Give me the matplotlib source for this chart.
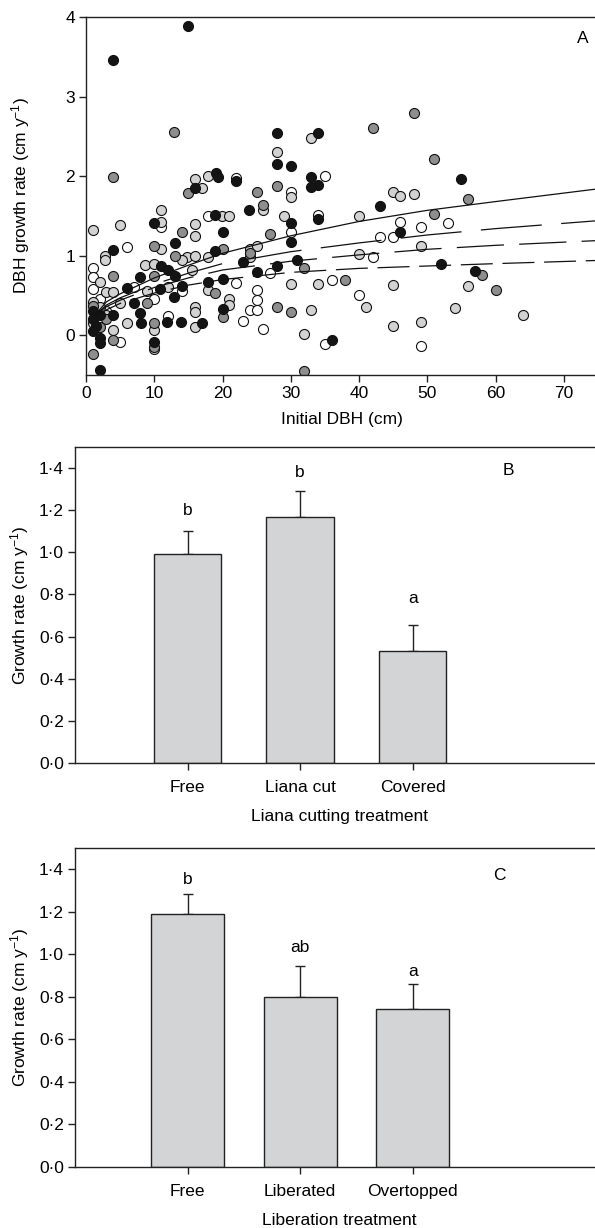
import matplotlib
matplotlib.use("Agg")
import matplotlib.pyplot as plt
from matplotlib.ticker import FuncFormatter

plt.rcParams['font.family'] = ['Liberation Sans', 'DejaVu Sans']
plt.rcParams['mathtext.fontset'] = 'custom'
plt.rcParams['mathtext.rm'] = 'Liberation Sans'
plt.rcParams['mathtext.it'] = 'Liberation Sans'
plt.rcParams['lines.scale_dashes'] = False

# ---- panel A: DBH growth rate vs initial DBH, four groups ----
black_x = [4, 15, 28, 34, 28, 30, 19, 19.3, 22, 33, 34, 33, 16, 55, 23.9, 43, 10, 18.9, 30, 34,
           20, 46, 13, 30, 4, 18.9, 23, 30.9, 52, 28, 25, 57, 11, 12, 13, 7.9, 14, 17.9, 20, 6,
           10.8, 12.9, 7, 20, 4, 7.9, 8, 11.9, 13.9, 17, 1, 2, 1, 1.5, 1, 2, 2, 2, 10, 36]
black_y = [3.46, 3.89, 2.54, 2.54, 2.15, 2.13, 2.04, 1.99, 1.94, 1.99, 1.89, 1.86, 1.85, 1.96, 1.58,
           1.62, 1.41, 1.51, 1.41, 1.46, 1.30, 1.30, 1.16, 1.17, 1.07, 1.06, 0.92, 0.95, 0.90, 0.87,
           0.79, 0.81, 0.87, 0.82, 0.75, 0.73, 0.62, 0.67, 0.71, 0.59, 0.58, 0.48, 0.40, 0.33, 0.25,
           0.28, 0.15, 0.17, 0.17, 0.15, 0.31, 0.25, 0.20, 0.12, 0.05, -0.03, -0.10, -0.44, -0.08, -0.06]

dgrey_x = [12.9, 48, 42, 51, 4, 15, 25, 28, 56, 26, 51, 14, 27, 10, 20, 13, 24, 32, 4, 10, 38, 58,
           60, 18.9, 9, 1, 28, 30, 20, 10, 4, 1, 10, 32, 2, 3]
dgrey_y = [2.55, 2.79, 2.60, 2.21, 1.99, 1.79, 1.80, 1.87, 1.71, 1.64, 1.53, 1.30, 1.27, 1.12, 1.08,
           1.00, 1.03, 0.85, 0.75, 0.74, 0.70, 0.76, 0.57, 0.53, 0.40, 0.37, 0.35, 0.29, 0.23, 0.15,
           -0.06, -0.23, -0.15, -0.45, 0.10, 0.20]

lgrey_x = [16, 17.9, 17, 28, 33, 30, 45, 46, 48, 1, 5, 11, 11, 16, 16, 19.9, 21, 26, 29, 40, 11, 24,
           25, 49, 2.8, 2.8, 14.8, 16, 17.9, 24, 40, 8.6, 10, 14, 15.6, 2, 3, 4, 17.9, 21, 21, 16,
           16, 30, 34, 45, 56, 41, 33, 54, 64, 1, 2, 3, 5, 6, 4, 10, 10, 16, 32, 45, 49, 12, 9, 1]
lgrey_y = [1.96, 2.00, 1.85, 2.30, 2.48, 1.74, 1.80, 1.75, 1.77, 1.32, 1.38, 1.58, 1.42, 1.40, 1.25,
           1.50, 1.50, 1.57, 1.50, 1.50, 1.09, 1.09, 1.12, 1.12, 1.00, 0.94, 0.98, 1.00, 0.98, 0.98,
           1.02, 0.88, 0.90, 0.95, 0.82, 0.67, 0.54, 0.54, 0.57, 0.46, 0.38, 0.36, 0.29, 0.64, 0.64,
           0.63, 0.62, 0.36, 0.32, 0.34, 0.26, 0.42, 0.35, 0.25, 0.40, 0.15, 0.06, 0.06, -0.17, 0.10,
           0.01, 0.11, 0.17, 0.60, 0.55, 0.15]

white_x = [22, 35, 30, 6, 11, 17.9, 34, 30, 46, 53, 49, 43, 45, 42, 27, 36, 22, 1, 1, 1, 25, 25, 40,
           24, 25, 23, 26, 12, 3, 5, 35, 49, 7, 10, 14, 2]
white_y = [1.97, 2.00, 1.80, 1.11, 1.36, 1.50, 1.51, 1.30, 1.42, 1.41, 1.36, 1.24, 1.24, 0.98, 0.78,
           0.70, 0.66, 0.85, 0.73, 0.58, 0.57, 0.44, 0.50, 0.32, 0.32, 0.18, 0.08, 0.24, 0.30, -0.08,
           -0.11, -0.14, 0.60, 0.45, 0.55, 0.45]

# fitted curves, values
fit_x = [1, 3, 5, 10, 15, 20, 30, 40, 50, 60, 75]
fit1_y = [0.22, 0.42, 0.52, 0.72, 0.88, 1.03, 1.25, 1.43, 1.57, 1.68, 1.84]
fit2_y = [0.22, 0.38, 0.47, 0.64, 0.78, 0.90, 1.05, 1.16, 1.26, 1.34, 1.44]
fit3_y = [0.22, 0.36, 0.44, 0.60, 0.72, 0.82, 0.93, 1.01, 1.08, 1.13, 1.19]
fit4_y = [0.22, 0.32, 0.40, 0.53, 0.63, 0.70, 0.79, 0.84, 0.87, 0.90, 0.94]

# ---- panel B ----
cut_labels = ["Free", "Liana cut", "Covered"]
cut_means = [0.99, 1.17, 0.53]
cut_se = [0.11, 0.12, 0.125]
cut_letters = ["b", "b", "a"]
cut_letter_y = [1.20, 1.38, 0.78]

# ---- panel C ----
lib_labels = ["Free", "Liberated", "Overtopped"]
lib_means = [1.19, 0.80, 0.745]
lib_se = [0.095, 0.145, 0.115]
lib_letters = ["b", "ab", "a"]
lib_letter_y = [1.35, 1.03, 0.92]

FS = 12.5
W, H = 595, 1228
fig = plt.figure(figsize=(W / 100, H / 100), dpi=100)


def box(l, t, r, b):
    return [l / W, 1 - b / H, (r - l) / W, (b - t) / H]


def style(ax):
    for s in ax.spines.values():
        s.set_linewidth(1.0)
        s.set_color("#222222")
    ax.spines['right'].set_visible(False)
    ax.tick_params(direction='out', length=5, width=1.0, color="#222222",
                   labelsize=FS, pad=3)


# panel A
ax = fig.add_axes(box(86, 17, 598, 375))
for xs, ys, fc in [(white_x, white_y, "white"), (lgrey_x, lgrey_y, "#d2d2d2"),
                   (dgrey_x, dgrey_y, "#8e8e8e"), (black_x, black_y, "#141414")]:
    ax.scatter(xs, ys, s=52, c=fc, edgecolors="#111111", linewidths=0.8, zorder=2)
ax.plot(fit_x, fit1_y, color="#111111", lw=0.9, zorder=3)
ax.plot(fit_x, fit2_y, color="#111111", lw=0.9, dashes=(44, 14), zorder=3)
ax.plot(fit_x, fit3_y, color="#111111", lw=0.9, dashes=(34, 11), zorder=3)
ax.plot(fit_x, fit4_y, color="#111111", lw=0.9, dashes=(23, 7), zorder=3)
ax.set_xlim(0, 75)
ax.set_ylim(-0.5, 4)
ax.set_xticks(range(0, 80, 10))
ax.set_yticks(range(0, 5))
ax.set_xlabel("Initial DBH (cm)", fontsize=FS, labelpad=8)
ax.set_ylabel(r"DBH growth rate (cm y$^{-1}$)", fontsize=FS, labelpad=24)
ax.text(0.971, 0.941, "A", transform=ax.transAxes, fontsize=FS, ha='center', va='center')
style(ax)

dot_fmt = FuncFormatter(lambda v, p: f"{v:.1f}".replace(".", "\u00b7"))


def bar_panel(ax, labels, means, se, letters, letter_y, width, tag, tag_pos, xlabel):
    pos = list(range(1, len(labels) + 1))
    ax.bar(pos, means, width=width, color="#d3d4d6", edgecolor="#222222", linewidth=1.0,
           zorder=2)
    ax.errorbar(pos, means, yerr=[[0] * len(se), se], fmt='none', ecolor="#222222",
                elinewidth=1.0, capsize=3.6, capthick=1.0, zorder=1)
    for x, t, y in zip(pos, letters, letter_y):
        ax.text(x, y, t, ha='center', va='center', fontsize=FS)
    ax.set_xlim(0, 4.7)
    ax.set_ylim(0, 1.5)
    ax.set_xticks(pos)
    ax.set_xticklabels(labels)
    ax.set_yticks([0, 0.2, 0.4, 0.6, 0.8, 1.0, 1.2, 1.4])
    ax.yaxis.set_major_formatter(dot_fmt)
    ax.set_xlabel(xlabel, fontsize=FS, labelpad=10)
    ax.set_ylabel(r"Growth rate (cm y$^{-1}$)", fontsize=FS, labelpad=6)
    ax.text(tag_pos[0], tag_pos[1], tag, transform=ax.transAxes, fontsize=FS,
            ha='center', va='center')
    style(ax)
    ax.tick_params(axis='x', pad=7)


axb = fig.add_axes(box(75, 447, 604, 763))
bar_panel(axb, cut_labels, cut_means, cut_se, cut_letters, cut_letter_y, 0.6, "B",
          (0.82, 0.927), "Liana cutting treatment")

axc = fig.add_axes(box(75, 848, 604, 1167))
bar_panel(axc, lib_labels, lib_means, lib_se, lib_letters, lib_letter_y, 0.65, "C",
          (0.803, 0.915), "Liberation treatment")

fig.savefig("out.png", dpi=100)
